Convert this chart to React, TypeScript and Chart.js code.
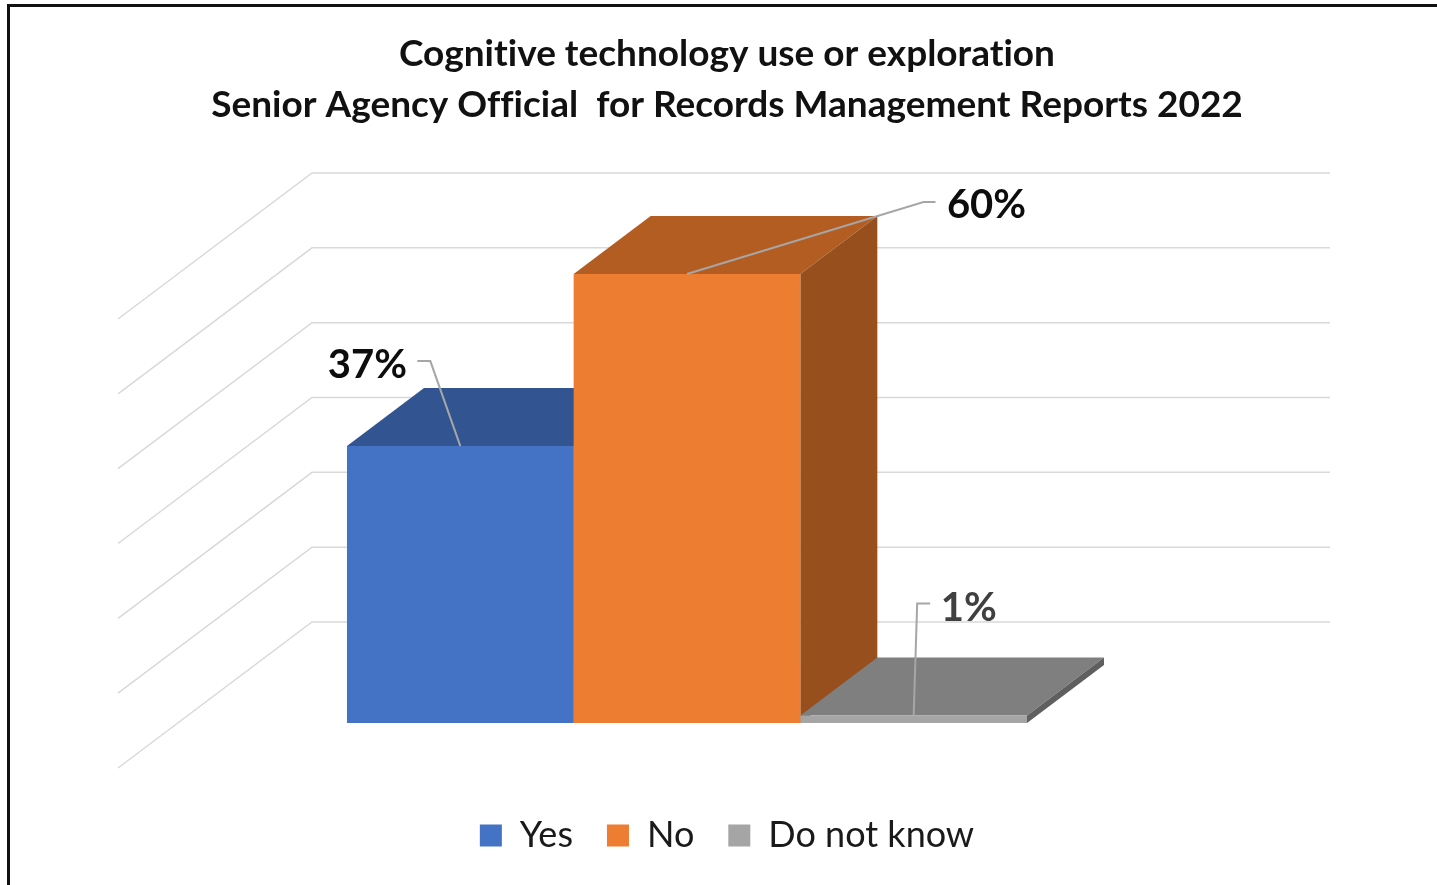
import React, { useEffect, useRef } from "react";
import { Chart, registerables } from "chart.js";

Chart.register(...registerables);

// ---- data ----
const categories = ["2022"];
const seriesNames = ["Yes", "No", "Do not know"];
const yesValues = [37];
const noValues = [60];
const doNotKnowValues = [1];
const yAxisTicks = [0, 10, 20, 30, 40, 50, 60];
const titleLines = [
  "Cognitive technology use or exploration",
  "Senior Agency Official  for Records Management Reports 2022",
];

// ---- styles ----
const frontColors = ["#4472C4", "#ED7D31", "#A5A5A5"];
const topColors = ["#325592", "#B35D22", "#7F7F7F"];
const sideColors = ["#2A4A80", "#974F1D", "#5F5F5F"];
const FONT = "Lato";
const TITLE_SIZE = 37;

// 3D projection offsets (pixels)
const BAR_DEPTH = { dx: 77, dy: -58 };
const WALL_BACK = { dx: 134, dy: -101 };
const FLOOR_FRONT = { dx: -60, dy: 45 };

// label placement relative to bar front-top centre (t = text centre/baseline, e = elbow, s = start)
const labelLayout = [
  { tx: -93, ty: -68, ex: -30, ey: -85, sx: -43, sy: -85, color: "#0d0d0d" },
  { tx: 299.5, ty: -56, ex: 236.5, ey: -72, sx: 248.5, sy: -72, color: "#0d0d0d" },
  { tx: 55, ty: -95, ex: 3.5, ey: -112, sx: 16.5, sy: -112, color: "#404040" },
];

function poly(ctx: CanvasRenderingContext2D, pts: number[][]) {
  ctx.beginPath();
  ctx.moveTo(pts[0][0], pts[0][1]);
  for (let i = 1; i < pts.length; i++) ctx.lineTo(pts[i][0], pts[i][1]);
  ctx.closePath();
  ctx.fill();
}

const threeDPlugin = {
  id: "threeD",
  beforeDraw(chart: any) {
    const ctx = chart.ctx as any;
    ctx.textRendering = "optimizeSpeed";
  },
  beforeDatasetsDraw(chart: any) {
    const { ctx, chartArea, scales } = chart;
    const ys = scales.y;
    ctx.save();
    ctx.strokeStyle = "#D9D9D9";
    ctx.lineWidth = 1.5;
    yAxisTicks.forEach((v) => {
      const py = ys.getPixelForValue(v);
      const bx = chartArea.left + WALL_BACK.dx;
      const by = py + WALL_BACK.dy;
      ctx.beginPath();
      ctx.moveTo(chartArea.left + FLOOR_FRONT.dx, py + FLOOR_FRONT.dy);
      ctx.lineTo(bx, by);
      ctx.lineTo(chartArea.right + WALL_BACK.dx, by);
      ctx.stroke();
    });
    const { dx, dy } = BAR_DEPTH;
    chart.data.datasets.forEach((_ds: any, i: number) => {
      const meta = chart.getDatasetMeta(i);
      meta.data.forEach((el: any) => {
        const { x, y, base, width } = el.getProps(["x", "y", "base", "width"], true);
        const L = x - width / 2;
        const R = x + width / 2;
        ctx.fillStyle = topColors[i];
        poly(ctx, [[L, y], [L + dx, y + dy], [R + dx, y + dy], [R, y]]);
        ctx.fillStyle = sideColors[i];
        poly(ctx, [[R, y], [R + dx, y + dy], [R + dx, base + dy], [R, base]]);
      });
    });
    ctx.restore();
  },
  afterDatasetsDraw(chart: any) {
    const { ctx } = chart;
    ctx.save();
    chart.data.datasets.forEach((ds: any, i: number) => {
      const meta = chart.getDatasetMeta(i);
      meta.data.forEach((el: any, j: number) => {
        const { x, y } = el.getProps(["x", "y"], true);
        const lay = labelLayout[i];
        ctx.strokeStyle = "#A6A6A6";
        ctx.lineWidth = 2;
        ctx.beginPath();
        ctx.moveTo(x + lay.sx, y + lay.sy);
        ctx.lineTo(x + lay.ex, y + lay.ey);
        ctx.lineTo(x, y);
        ctx.stroke();
        ctx.fillStyle = lay.color;
        ctx.font = `bold 40px ${FONT}`;
        ctx.textAlign = "center";
        ctx.textBaseline = "alphabetic";
        ctx.fillText(`${ds.data[j]}%`, x + lay.tx, y + lay.ty);
      });
    });
    ctx.restore();
  },
};

export default function App() {
  const canvasRef = useRef<HTMLCanvasElement | null>(null);

  useEffect(() => {
    if (!canvasRef.current) return;
    const seriesValues = [yesValues, noValues, doNotKnowValues];
    const chart = new Chart(canvasRef.current, {
      type: "bar",
      data: {
        labels: categories,
        datasets: seriesNames.map((name, i) => ({
          label: name,
          data: seriesValues[i],
          backgroundColor: frontColors[i],
          borderWidth: 0,
          categoryPercentage: 0.668,
          barPercentage: 1,
        })),
      },
      options: {
        animation: false,
        responsive: true,
        maintainAspectRatio: false,
        events: [],
        layout: { padding: { left: 17, top: 0, right: 0, bottom: 21.5 } },
        scales: {
          x: {
            type: "category",
            display: true,
            ticks: { display: false },
            grid: { display: false },
            border: { display: false },
            afterFit: (s: any) => {
              s.height = 60.5;
            },
          },
          y: {
            type: "linear",
            position: "left",
            min: 0,
            max: 60,
            display: true,
            ticks: { display: false, stepSize: 10 },
            grid: { display: false },
            border: { display: false },
            afterFit: (s: any) => {
              s.width = 161;
            },
          },
          yRight: {
            type: "linear",
            position: "right",
            min: 0,
            max: 60,
            display: true,
            ticks: { display: false },
            grid: { display: false },
            border: { display: false },
            afterFit: (s: any) => {
              s.width = 241;
            },
          },
        },
        plugins: {
          title: {
            display: true,
            text: titleLines,
            color: "#111111",
            font: { family: FONT, size: TITLE_SIZE, weight: "bold", lineHeight: 51 / TITLE_SIZE },
            padding: { top: 28.5, bottom: 143.5 },
          },
          legend: {
            display: true,
            position: "bottom",
            labels: {
              color: "#1a1a1a",
              font: { family: FONT, size: 36 },
              boxWidth: 22,
              boxHeight: 22,
              padding: 34,
            },
          },
          tooltip: { enabled: false },
        },
      },
      plugins: [threeDPlugin],
    } as any);
    return () => chart.destroy();
  }, []);

  return (
    <div style={{ position: "absolute", left: 0, top: 0, width: 1437, height: 885, background: "#fff" }}>
      <canvas ref={canvasRef} style={{ display: "block" }} />
      <div
        style={{
          position: "absolute",
          left: 7,
          top: 4,
          right: 0,
          bottom: 0,
          borderTop: "3px solid #111",
          borderLeft: "3px solid #111",
          pointerEvents: "none",
        }}
      />
    </div>
  );
}
